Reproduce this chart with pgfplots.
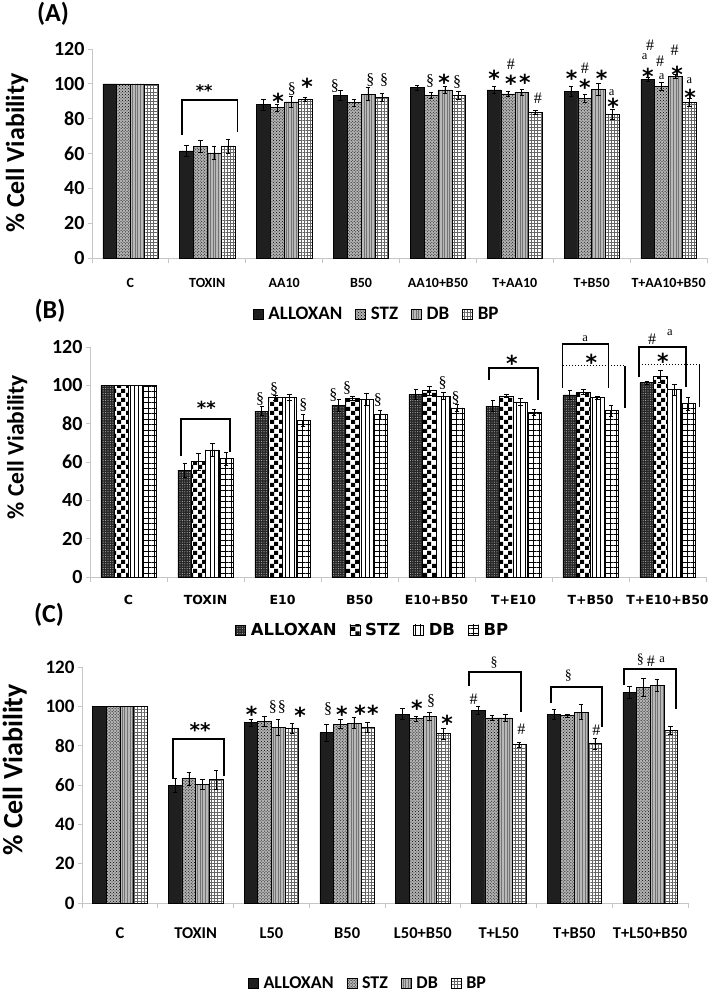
\documentclass[border=0pt]{standalone}
\usepackage{fontspec}
\setmainfont{Carlito}
\newfontfamily\dvs{DejaVu Sans}
\newfontfamily\lserif{Liberation Serif}
\usepackage{pgfplots}
\pgfplotsset{compat=1.18}
\usepackage{pgfplotstable}
\usetikzlibrary{patterns,patterns.meta}

\tikzdeclarepattern{
  name=bigcheck,
  type=uncolored,
  bounding box={(0bp,0bp) and (9bp,9bp)},
  tile size={(9bp,9bp)},
  code={\fill (0bp,0bp) rectangle (4.5bp,4.5bp); \fill (4.5bp,4.5bp) rectangle (9bp,9bp);}
}

\newcommand{\fs}[1]{\fontsize{#1bp}{#1bp}\selectfont}

\pgfplotstableread{
x al ale st ste db dbe bp bpe
0 100 0 100 0 100 0 100 0
1 61.5 3.3 64.0 3.3 60.4 4.0 64.4 4.0
2 88.0 3.3 86.4 2.0 89.7 3.3 91.2 1.0
3 93.2 2.9 89.3 2.0 94.1 3.8 92.4 2.3
4 97.9 1.5 93.5 1.7 96.6 1.9 93.5 2.5
5 96.6 2.1 94.3 1.2 95.1 1.9 83.8 1.2
6 95.6 3.0 91.8 2.3 97.0 3.5 82.6 3.0
7 102.4 1.1 98.5 2.1 104.3 1.0 89.5 2.3
}\tabA

\pgfplotstableread{
x al ale st ste db dbe bp bpe
0 100 0 100 0 100 0 100 0
1 55.7 3.8 60.3 4.5 66.3 3.3 61.7 3.5
2 86.6 2.4 93.6 1.2 93.6 1.6 81.7 3.3
3 89.7 3.0 93.4 1.0 92.5 3.1 84.7 2.3
4 95.3 2.6 97.2 2.3 94.4 1.9 88.3 1.7
5 89.2 3.0 94.4 0.7 91.3 1.7 85.9 1.7
6 95.0 2.4 96.5 1.4 93.6 0.9 86.8 2.8
7 101.4 0.9 104.7 3.1 97.7 3.1 90.4 3.5
}\tabB

\pgfplotstableread{
x al ale st ste db dbe bp bpe
0 100 0 100 0 100 0 100 0
1 59.8 3.4 63.2 3.4 60.3 2.5 62.7 4.7
2 91.7 1.7 92.4 2.7 89.2 4.0 89.0 2.5
3 86.6 4.2 91.0 2.2 91.5 2.7 89.5 2.5
4 96.1 2.7 93.7 1.4 94.9 2.2 86.1 2.9
5 98.0 2.2 94.2 1.2 94.2 1.7 80.5 1.4
6 95.9 2.4 95.3 0.7 97.1 3.7 81.0 2.9
7 107.1 3.2 109.7 4.4 110.7 3.2 87.8 2.0
}\tabC

\tikzset{
  starn/.style={font=\dvs\bfseries\fs{22}, anchor=north, inner sep=0pt, yshift=4.6bp},
  symn/.style={font=\lserif\fs{16}, anchor=center, inner sep=0pt},
  an/.style={font=\lserif\fs{12.5}, anchor=center, inner sep=0pt},
}

\pgfplotsset{
  panel/.style={
    scale only axis, clip=false,
    ybar, bar width=0.18,
    xmin=-0.5, xmax=7.5, ymin=0, ymax=120,
    ytick={0,20,...,120},
    xtick={0,...,7},
    minor xtick={-0.5,0.5,...,7.5},
    axis lines*=left,
    axis line style={draw=gray!45, line width=0.8bp},
    tick align=outside,
    major tick length=4bp, minor tick length=5bp,
    major x tick style={draw=none},
    minor x tick style={draw=gray!45, line width=0.8bp},
    y tick style={draw=gray!45, line width=0.8bp},
    /pgf/number format/assume math mode=true,
    error bars/y dir=both, error bars/y explicit,
    error bars/error bar style={black, line width=0.6bp},
    error bars/error mark options={rotate=90, black, mark size=2.2bp, line width=0.6bp},
    legend columns=4,
    legend image code/.code={\draw[##1] (0bp,-5bp) rectangle (10bp,5bp);},
    legend style={draw=none, fill=none,
      /tikz/every odd column/.append style={column sep=3bp},
      /tikz/every even column/.append style={column sep=11bp}},
    legend cell align=left,
  },
  alA/.style={draw=black, line width=0.5bp, fill=black!88},
  stA/.style={draw=black, line width=0.5bp, fill=gray!60, postaction={pattern=crosshatch dots, pattern color=black}},
  dbA/.style={draw=black, line width=0.5bp, fill=gray!55, postaction={pattern={Lines[angle=90,distance=2.6bp,line width=0.7bp]}, pattern color=black!55}},
  bpA/.style={draw=black, line width=0.5bp, pattern={Hatch[angle=0,distance=3.2bp,line width=0.55bp]}, pattern color=black!60},
  alB/.style={draw=black, line width=0.5bp, fill=black!85, postaction={pattern={Dots[distance=2.4bp,radius=0.55bp]}, pattern color=gray!60}},
  stB/.style={draw=black, line width=0.5bp, pattern=bigcheck, pattern color=black},
  dbB/.style={draw=black, line width=0.5bp, pattern={Lines[angle=90,distance=4.2bp,line width=0.8bp]}, pattern color=black},
  bpB/.style={draw=black, line width=0.5bp, pattern={Hatch[angle=0,distance=5.5bp,line width=0.8bp]}, pattern color=black},
}

\newcommand{\st}[2]{\node[starn] at (axis cs:#1,#2) {*};}
\newcommand{\hs}[2]{\node[symn] at (axis cs:#1,#2) {\#};}
\newcommand{\sg}[2]{\node[symn] at (axis cs:#1,#2) {\S};}
\newcommand{\la}[2]{\node[an] at (axis cs:#1,#2) {a};}

\begin{document}
\begin{tikzpicture}
\path[use as bounding box] (0bp,0bp) rectangle (709bp,-991bp);

% ---------------- Panel A ----------------
\node[font=\bfseries\fs{26}] at (53bp,-14bp) {(A)};
\begin{axis}[panel,
  at={(92bp,-258bp)}, anchor=south west,
  width=615bp, height=209bp,
  xticklabels={C,TOXIN,AA10,B50,AA10+B50,T+AA10,T+B50,T+AA10+B50},
  xticklabel style={font=\bfseries\fs{14}, yshift=-13bp},
  yticklabel style={font=\bfseries\fs{20}},
  ylabel={\% Cell Viability},
  ylabel style={font=\bfseries\fs{26}, at={(axis description cs:-0.122,0.502)}, anchor=center},
  legend style={at={(axis description cs:0.463,-0.268)}, anchor=center, font=\bfseries\fs{19}},
]
\addplot[alA, bar shift=-0.27] table[x=x,y=al,y error=ale]{\tabA};
\addlegendentry{ALLOXAN}
\addplot[stA, bar shift=-0.09] table[x=x,y=st,y error=ste]{\tabA};
\addlegendentry{STZ}
\addplot[dbA, bar shift=0.09] table[x=x,y=db,y error=dbe]{\tabA};
\addlegendentry{DB}
\addplot[bpA, bar shift=0.27] table[x=x,y=bp,y error=bpe]{\tabA};
\addlegendentry{BP}
\draw[line width=1.2bp] (axis cs:0.67,70.6) -- (axis cs:0.67,90.7) -- (axis cs:1.39,90.7) -- (axis cs:1.39,72.3);
\node[starn, font=\dvs\bfseries\fs{16}, yshift=3.4bp] at (axis cs:0.96,95.3) {**};
\st{1.92}{92.4} \sg{2.10}{97} \st{2.30}{100.5}
\sg{2.66}{98.8} \sg{3.12}{102.2} \sg{3.30}{102.2}
\sg{3.90}{101.6} \st{4.08}{102.8} \sg{4.25}{101}
\st{4.73}{105.1} \hs{4.95}{111.0} \st{4.95}{102.5} \st{5.13}{102.8} \hs{5.30}{91.9}
\st{5.74}{105.1} \hs{5.91}{109.0} \st{5.91}{100.0} \st{6.13}{105.1} \la{6.26}{95.0} \st{6.28}{89.4}
\hs{6.76}{122.2} \la{6.69}{115.6} \st{6.73}{106.2} \hs{6.89}{112.8} \la{6.91}{104.4} \hs{7.08}{119.2} \st{7.11}{107.4} \la{7.27}{101.8} \st{7.28}{94.5}
\end{axis}

% ---------------- Panel B ----------------
\node[font=\bfseries\fs{26}] at (50bp,-311bp) {(B)};
\begin{axis}[panel,
  at={(90bp,-577bp)}, anchor=south west,
  width=616bp, height=230bp,
  xticklabels={C,TOXIN,E10,B50,E10+B50,T+E10,T+B50,T+E10+B50},
  xticklabel style={font=\dvs\bfseries\fs{12.5}, yshift=-11bp},
  yticklabel style={font=\bfseries\fs{20}},
  ylabel={\% Cell Viability},
  ylabel style={font=\bfseries\fs{23.5}, at={(axis description cs:-0.118,0.565)}, anchor=center},
  legend style={at={(axis description cs:0.459,-0.230)}, anchor=center, font=\dvs\bfseries\fs{16.5}},
]
\addplot[alB, bar shift=-0.27] table[x=x,y=al,y error=ale]{\tabB};
\addlegendentry{ALLOXAN}
\addplot[stB, bar shift=-0.09] table[x=x,y=st,y error=ste]{\tabB};
\addlegendentry{STZ}
\addplot[dbB, bar shift=0.09] table[x=x,y=db,y error=dbe]{\tabB};
\addlegendentry{DB}
\addplot[bpB, bar shift=0.27] table[x=x,y=bp,y error=bpe]{\tabB};
\addlegendentry{BP}
\draw[line width=1.3bp] (axis cs:0.68,63.1) -- (axis cs:0.68,82.4) -- (axis cs:1.32,82.4) -- (axis cs:1.32,65.2);
\node[starn, font=\dvs\bfseries\fs{18}, yshift=3.8bp] at (axis cs:1.01,87.7) {**};
\sg{1.71}{92.9} \sg{1.89}{98.1} \sg{2.27}{89.7}
\sg{2.66}{95} \sg{2.84}{98.6} \sg{3.24}{92.3}
\sg{4.08}{101.2} \sg{4.25}{93.4}
\draw[line width=1.3bp] (axis cs:4.68,102.8) -- (axis cs:4.68,109) -- (axis cs:5.32,109) -- (axis cs:5.32,92.3);
\st{4.98}{113.7}
\draw[line width=1.3bp] (axis cs:5.64,98.6) -- (axis cs:5.64,121.6) -- (axis cs:6.23,121.6) -- (axis cs:6.23,98.6);
\la{5.93}{124.6}
\draw[line width=1bp, dotted] (axis cs:5.64,110.1) -- (axis cs:6.45,110.1);
\draw[line width=1.3bp] (axis cs:6.45,110.1) -- (axis cs:6.45,88.2);
\st{6.01}{114.2}
\draw[line width=1.3bp] (axis cs:6.63,104.3) -- (axis cs:6.63,120) -- (axis cs:7.24,120) -- (axis cs:7.24,99.1);
\hs{6.80}{124.2} \la{7.03}{127.3}
\draw[line width=1bp, dotted] (axis cs:6.63,111.1) -- (axis cs:7.42,111.1);
\draw[line width=1.3bp] (axis cs:7.42,111.1) -- (axis cs:7.42,88.7);
\st{6.94}{114.5}
\end{axis}

% ---------------- Panel C ----------------
\node[font=\bfseries\fs{26}] at (49bp,-615bp) {(C)};
\begin{axis}[panel,
  at={(82bp,-903bp)}, anchor=south west,
  width=606bp, height=236bp,
  xticklabels={C,TOXIN,L50,B50,L50+B50,T+L50,T+B50,T+L50+B50},
  xticklabel style={font=\bfseries\fs{16.5}, yshift=-17bp},
  yticklabel style={font=\bfseries\fs{19}},
  ylabel={\% Cell Viability},
  ylabel style={font=\bfseries\fs{28}, at={(axis description cs:-0.111,0.564)}, anchor=center},
  legend style={at={(axis description cs:0.472,-0.339)}, anchor=center, font=\bfseries\fs{18}},
]
\addplot[alA, bar shift=-0.27] table[x=x,y=al,y error=ale]{\tabC};
\addlegendentry{ALLOXAN}
\addplot[stA, bar shift=-0.09] table[x=x,y=st,y error=ste]{\tabC};
\addlegendentry{STZ}
\addplot[dbA, bar shift=0.09] table[x=x,y=db,y error=dbe]{\tabC};
\addlegendentry{DB}
\addplot[bpA, bar shift=0.27] table[x=x,y=bp,y error=bpe]{\tabC};
\addlegendentry{BP}
\draw[line width=2bp] (axis cs:0.70,63.0) -- (axis cs:0.70,83.4) -- (axis cs:1.37,83.4) -- (axis cs:1.37,64.6);
\node[starn, font=\dvs\bfseries\fs{20}, yshift=4.2bp] at (axis cs:1.06,87.5) {**};
\st{1.74}{97.6} \sg{2.02}{99.7} \sg{2.14}{99.7} \st{2.38}{97.1}
\sg{2.75}{98.6} \st{2.93}{97.6} \st{3.17}{98.6} \st{3.34}{98.6}
\st{3.92}{100.7} \sg{4.11}{102.7} \st{4.32}{93.1}
\draw[line width=2bp] (axis cs:4.61,110.3) -- (axis cs:4.61,117.5) -- (axis cs:5.30,117.5) -- (axis cs:5.30,97.1);
\node[symn, font=\lserif\fs{14}] at (axis cs:4.94,122) {\S};
\hs{4.67}{103.7} \hs{5.30}{88.5}
\draw[line width=2bp] (axis cs:5.69,101.7) -- (axis cs:5.69,109.8) -- (axis cs:6.36,109.8) -- (axis cs:6.36,89.5);
\node[symn, font=\lserif\fs{14}] at (axis cs:5.92,115.4) {\S};
\hs{6.29}{88.0}
\draw[line width=2bp] (axis cs:6.66,110.8) -- (axis cs:6.66,119) -- (axis cs:7.34,119) -- (axis cs:7.34,98.6);
\node[symn, font=\lserif\fs{14}] at (axis cs:6.87,124) {\S};
\hs{7.01}{123} \la{7.16}{124}
\end{axis}
\end{tikzpicture}
\end{document}
